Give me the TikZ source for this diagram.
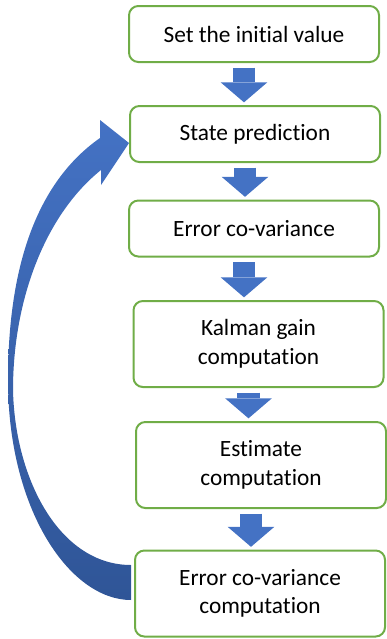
\documentclass[tikz,border=0pt]{standalone}
\usepackage{fontspec}
\setmainfont{Carlito}[Ligatures={NoCommon}]
\usetikzlibrary{arrows.meta}

\definecolor{boxgreen}{HTML}{70AD47}
\definecolor{arrowblue}{HTML}{4472C4}
\definecolor{arrowdark}{HTML}{2F5597}

\begin{document}
\begin{tikzpicture}[
        x=0.75pt, y=-0.75pt,
        stepbox/.style={rectangle, rounded corners=7pt, line width=1.5pt, draw=boxgreen, fill=white,
            minimum width=187.5pt, minimum height=42pt, align=center,
            font=\fontsize{17.5pt}{21.5pt}\selectfont},
        tallbox/.style={stepbox, minimum height=64.5pt},
        flow/.style={draw=arrowblue, line width=17pt,
            -{Triangle[length=15pt, width=35pt, line width=0pt]},
            shorten <=3.5pt, shorten >=2pt}
    ]
    \useasboundingbox (0,0) rectangle (386,639);

    % Steps of the filter
    \node[stepbox] (init) at (254,34) {Set the initial value};
    \node[stepbox] (pred) at (255,134) {State prediction};
    \node[stepbox] (errcov) at (254,228.5) {Error co-variance};
    \node[tallbox] (gain) at (258.5,344) {Kalman gain\\computation};
    \node[tallbox] (est) at (261,465) {Estimate\\computation};
    \node[tallbox] (errcomp) at (260,593.5) {Error co-variance\\computation};

    % Block arrows between the steps
    \foreach \a/\b in {init/pred, pred/errcov, errcov/gain, gain/est, est/errcomp}
        \draw[flow] ([xshift=-7.5pt]\a.south) -- ([xshift=-7.5pt]\a.south |- \b.north);

    % Loop back to the prediction
    \path ([shift={(-3,6.5)}]errcomp.west) coordinate (tailout)
          ([shift={(-3,-28.5)}]errcomp.west) coordinate (tailin)
          ([shift={(0,9)}]pred.west) coordinate (tip);
    \shade[top color=arrowblue, bottom color=arrowdark]
        (tailout) .. controls (70,600) and (8,510) .. (8,380)
        .. controls (8,260) and (40,180) .. (100,138)
        -- (100,120) -- (tip) -- (101,185) -- (101,170)
        .. controls (45,215) and (13,300) .. (13,390)
        .. controls (15,480) and (60,565) .. (tailin) -- cycle;

    \end{tikzpicture}
\end{document}
